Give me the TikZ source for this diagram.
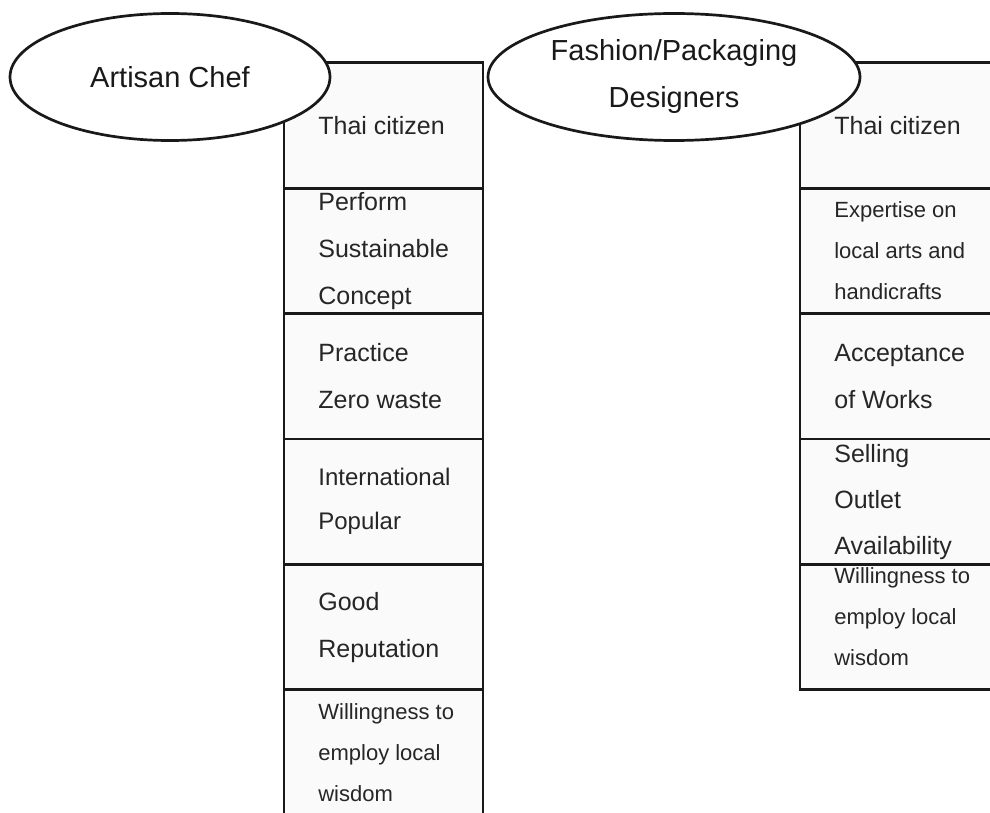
\documentclass[tikz,border=0pt]{standalone}
\usetikzlibrary{positioning, shapes.geometric}
\usepackage{xcolor}
\usepackage{fontspec}
\setmainfont{Liberation Sans}
\definecolor{boxgray}{HTML}{FAFAFA}
\def\boxwd{199pt}
\def\boxht{125.4pt}

\begin{document}
\begin{tikzpicture}[x=1pt,y=-1pt,line width=2.7pt,draw=black!90,node distance=0pt]
	\tikzstyle{crit}=[rectangle,draw,fill=boxgray,minimum width=\boxwd,minimum height=\boxht,inner sep=0pt,outer sep=0pt]
	\tikzstyle{crit text}=[align=left,inner sep=0pt,text=black!85,font=\fontsize{25}{47}\selectfont]
	\tikzstyle{small text}=[crit text,font=\fontsize{22}{41}\selectfont]
	\tikzstyle{role}=[ellipse,draw,fill=white,inner sep=0pt,text=black!90,font=\fontsize{29}{47}\selectfont,align=center]

	\path[use as bounding box,fill=white] (0,0) rectangle (990,813);
	\clip (0,0) rectangle (990,813);

	% artisan chef column
	\node[crit] (C-1) at (383.5,125.5) {};
	\node[crit,below=of C-1] (C-2) {};
	\node[crit,below=of C-2] (C-3) {};
	\node[crit,below=of C-3] (C-4) {};
	\node[crit,below=of C-4] (C-5) {};
	\node[crit,below=of C-5] (C-6) {};

		\node[crit text,right=33pt of C-1.west] (TC-1) {Thai citizen};
		\node[crit text,right=33pt of C-2.west] (TC-2) {Perform\\Sustainable\\Concept};
		\node[crit text,right=33pt of C-3.west] (TC-3) {Practice\\Zero waste};
		\node[crit text,right=33pt of C-4.west,font=\fontsize{24}{44}\selectfont] (TC-4) {International\\Popular};
		\node[crit text,right=33pt of C-5.west] (TC-5) {Good\\Reputation};
		\node[small text,right=33pt of C-6.west] (TC-6) {Willingness to\\employ local\\wisdom};

	% designers column
	\node[crit] (D-1) at (899.5,125.5) {};
	\node[crit,below=of D-1] (D-2) {};
	\node[crit,below=of D-2] (D-3) {};
	\node[crit,below=of D-3] (D-4) {};
	\node[crit,below=of D-4] (D-5) {};

		\node[crit text,right=33pt of D-1.west] (TD-1) {Thai citizen};
		\node[small text,right=33pt of D-2.west] (TD-2) {Expertise on\\local arts and\\handicrafts};
		\node[crit text,right=33pt of D-3.west] (TD-3) {Acceptance\\of Works};
		\node[crit text,right=33pt of D-4.west,font=\fontsize{25}{46}\selectfont] (TD-4) {Selling\\Outlet\\Availability};
		\node[small text,right=33pt of D-5.west,yshift=10pt] (TD-5) {Willingness to\\employ local\\wisdom};

	% the two roles sit on top of the first boxes
	\node[role,minimum width=320pt,minimum height=127pt] (A) at (170,77) {Artisan Chef};
	\node[role,minimum width=372pt,minimum height=127pt] (F) at (674,77) {Fashion/Packaging\\Designers};
\end{tikzpicture}
\end{document}
